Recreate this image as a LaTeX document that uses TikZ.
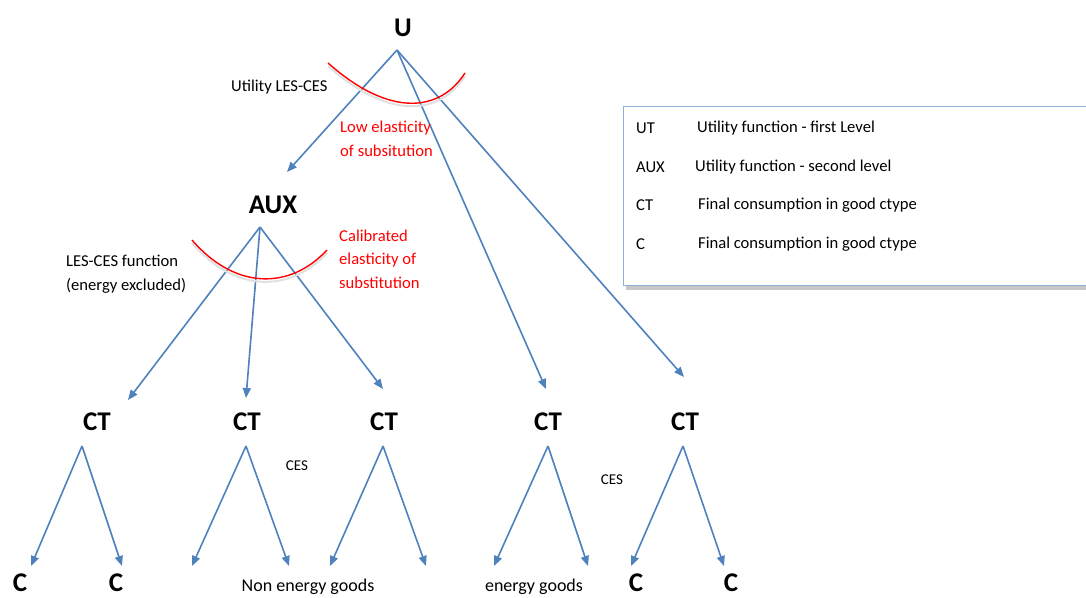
\documentclass[tikz,border=0pt]{standalone}
\usepackage{fontspec}
\setmainfont{Carlito}
\usetikzlibrary{arrows.meta}

\definecolor{lineblue}{RGB}{79,129,189}
\definecolor{boxblue}{RGB}{141,175,218}

\begin{document}
\begin{tikzpicture}[x=1pt,y=-1pt,
    lvl/.style={font=\fontsize{27}{29}\selectfont\bfseries, inner sep=0pt},
    lbl/.style={font=\fontsize{16.6}{23.5}\selectfont, inner sep=0pt, anchor=west, align=left},
    redlbl/.style={lbl, text=red},
    ces/.style={font=\fontsize{15}{17}\selectfont, inner sep=0pt},
    goods/.style={font=\fontsize{18}{20}\selectfont, inner sep=0pt, anchor=base},
    link/.style={lineblue, line width=1.6pt, -{Triangle[length=10pt,width=8pt]}},
    elast/.style={red, line width=1.4pt},
    elastshadow/.style={black!12, line width=2pt}]

    \useasboundingbox (0,0) rectangle (1086,597);

    % levels
    \node[lvl] (u) at (403,28) {U};
    \node[lvl] (aux) at (273,205) {AUX};
    \node[lvl] (ct1) at (97,422) {CT};
    \node[lvl] (ct2) at (247,422) {CT};
    \node[lvl] (ct3) at (384,422) {CT};
    \node[lvl] (ct4) at (548,422) {CT};
    \node[lvl] (ct5) at (685,422) {CT};
    \node[lvl] (c1) at (20,583) {C};
    \node[lvl] (c2) at (116,583) {C};
    \node[lvl] (c3) at (636,583) {C};
    \node[lvl] (c4) at (731,583) {C};

    % apexes and arrow ends
    \coordinate (u-top) at (397,50);
    \coordinate (aux-top) at (260,227);
    \coordinate (aux-in) at (287,172);
    \coordinate (ct1-in) at (128,400);
    \coordinate (ct2-in) at (246,398);
    \coordinate (ct3-in) at (383,389);
    \coordinate (ct4-in) at (546,389);
    \coordinate (ct5-in) at (684,377);
    \coordinate (ct1-top) at (82,446);
    \coordinate (ct2-top) at (246,446);
    \coordinate (ct3-top) at (383,446);
    \coordinate (ct4-top) at (548,446);
    \coordinate (ct5-top) at (683,446);

    % first level
    \draw[link] (u-top) -- (aux-in);
    \draw[link] (u-top) -- (ct4-in);
    \draw[link] (u-top) -- (ct5-in);

    % second level
    \draw[link] (aux-top) -- (ct1-in);
    \draw[link] (aux-top) -- (ct2-in);
    \draw[link] (aux-top) -- (ct3-in);

    % goods
    \foreach \ct/\l/\r in {ct1/31/122, ct2/192/289, ct3/330/426, ct4/494/588, ct5/631/724} {
        \coordinate (\ct-l) at (\l,566);
        \coordinate (\ct-r) at (\r,566);
        \draw[link] (\ct-top) -- (\ct-l);
        \draw[link] (\ct-top) -- (\ct-r);
    }

    % elasticity curves
    \begin{scope}[yshift=-3pt]
        \draw[elastshadow] (328,63) .. controls (390,118) and (440,112) .. (465,73);
        \draw[elastshadow] (192,240) .. controls (235,290) and (290,290) .. (327,250);
    \end{scope}
    \draw[elast] (328,63) .. controls (390,118) and (440,112) .. (465,73);
    \draw[elast] (192,240) .. controls (235,290) and (290,290) .. (327,250);

    % labels
    \node[lbl] (util) at (231,87) {Utility LES-CES};
    \node[redlbl] (low) at (340,139) {Low elasticity\\of subsitution};
    \node[lbl] (lesces) at (66,274) {LES-CES function\\(energy excluded)};
    \node[redlbl] (calib) at (339,259) {Calibrated\\elasticity of\\substitution};
    \node[ces] (ces1) at (297,466) {CES};
    \node[ces] (ces2) at (612,480) {CES};
    \node[goods] (nonen) at (308,591) {Non energy goods};
    \node[goods] (en) at (534,591) {energy goods};

    % legend
    \fill[black!22] (626,285) rectangle (1090,290);
    \draw[boxblue, line width=1pt, fill=white] (623,106) rectangle (1092,285);
    \node[lbl] (k1) at (636,128) {UT};
    \node[lbl] (v1) at (697,128) {Utility function - first Level};
    \node[lbl] (k2) at (636,167) {AUX};
    \node[lbl] (v2) at (695,167) {Utility function - second level};
    \node[lbl] (k3) at (636,205) {CT};
    \node[lbl] (v3) at (698,205) {Final consumption in good ctype};
    \node[lbl] (k4) at (636,244) {C};
    \node[lbl] (v4) at (698,244) {Final consumption in good ctype};

\end{tikzpicture}
\end{document}
